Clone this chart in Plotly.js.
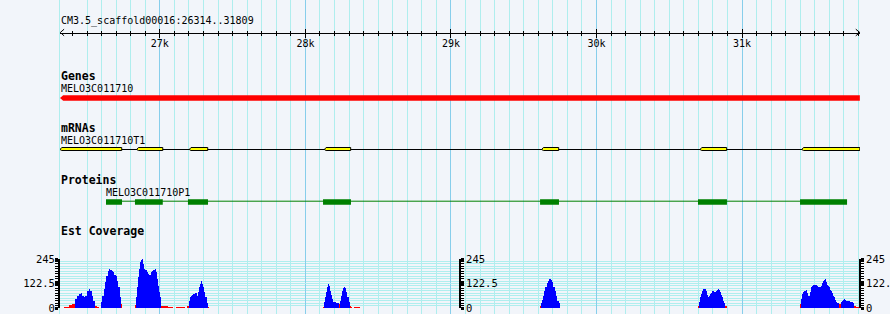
<!DOCTYPE html>
<html><head><meta charset="utf-8">
<script src="https://cdn.plot.ly/plotly-3.0.1.min.js"></script>
<style>html,body{margin:0;padding:0;background:#f2f5fa;} #chart{width:890px;height:314px;}</style>
</head><body><div id="chart"></div>
<script>
// ---------------- data ----------------
const regionStart = 26314, regionEnd = 31809;
const scaffoldLabel = 'CM3.5_scaffold00016:26314..31809';
const rulerTicks = [27000, 28000, 29000, 30000, 31000];
const rulerLabels = ['27k', '28k', '29k', '30k', '31k'];

const geneName = 'MELO3C011710';
const geneStart = 26314, geneEnd = 31809;

const mrnaName = 'MELO3C011710T1';
const exonStart = [26314, 26841, 27202, 28130, 29623, 30711, 31410];
const exonEnd   = [26738, 27020, 27329, 28311, 29740, 30894, 31809];

const proteinName = 'MELO3C011710P1';
const cdsStart = [26630, 26829, 27193, 28121, 29612, 30697, 31398];
const cdsEnd   = [26740, 27020, 27331, 28313, 29742, 30896, 31721];

const covTicks = [0, 122.5, 245];
const covTickLabels = ['0', '122.5', '245'];
// coverage step function: value covVal[i] holds from covPos[i] to covPos[i+1]
const covPos = [
  26341,26376,26396,26419,26431,26445,26456,26465,26477,26486,26499,26511,26520,26532,26541,26556,26570,26582,
  26594,26596,26605,26614,26623,26632,26642,26651,26660,26669,26678,26687,26697,26706,26715,26724,26731,26733,26742,
  26829,26834,26841,26848,26855,26864,26873,26879,26886,26893,26900,26910,26919,26928,26937,26946,26955,26965,26972,26980,26987,26996,27003,27010,27056,27090,
  27113,27171,27189,27198,27205,27212,27221,27230,27239,27257,27264,27271,27278,27285,27292,27299,27305,27312,27322,27331,27338,
  28119,28128,28135,28141,28148,28157,28164,28171,28178,28185,28192,28201,28210,28219,28233,28238,28244,28251,28258,28267,28274,28281,28288,28297,28306,28315,28320,28336,28375,
  29612,29618,29627,29634,29641,29648,29658,29667,29675,29685,29694,29703,29713,29721,29730,29740,29747,
  30699,30706,30713,30720,30727,30733,30750,30757,30764,30771,30777,30784,30791,30805,30821,30828,30834,30841,30848,30855,30862,30869,30876,30883,30894,
  31398,31407,31414,31420,31427,31434,31441,31448,31455,31469,31475,31482,31489,31503,31517,31524,31537,31544,31551,31558,31565,31572,31579,31585,31592,31599,31606,31613,31620,31627,31634,31640,31647,31654,31666,31680,31687,31693,31700,31707,31714,31728,31742,31748,31762,31771,31783,31809
];
const covVal = [
  5,14,20,45,62,70,73,62,53,62,83,93,87,62,37,12,3,0,
  5,28,62,95,128,162,187,195,190,183,178,167,162,137,103,53,24,20,0,
  17,53,103,153,195,228,240,245,220,195,192,178,170,167,178,187,192,195,178,145,112,78,53,10,7,0,
  5,0,12,37,53,58,65,70,75,62,78,103,120,133,120,103,78,53,24,7,0,
  7,28,53,78,103,120,110,87,67,45,32,28,24,23,20,37,62,83,98,103,98,78,53,28,12,3,0,7,0,
  8,24,40,62,83,103,123,137,145,140,128,107,87,62,37,24,0,
  12,28,53,70,87,95,83,67,53,62,70,75,83,78,83,90,95,90,78,67,53,37,24,12,0,
  20,45,70,78,83,87,90,73,62,78,103,112,117,115,112,103,107,112,123,137,142,145,128,117,112,103,90,83,73,62,53,40,28,24,20,28,37,40,45,42,37,33,32,28,25,12,3,0
];
const covMax = 245;
const covPivot = 21;

// ---------------- styles / layout constants ----------------
const mono = '"DejaVu Sans Mono", "Liberation Mono", monospace';
const bg = '#f2f5fa';
const minorGridColor = '#afeeee';
const majorGridColor = '#87ceeb';
const H = 314;               // main y axis works in pixel rows (top = 0)
const rulerY = 32.5;
const geneY = 98, geneHalf = 2.7, geneArrow = 22;
const mrnaBoxY = 149, mrnaLineY = 149.5, exonHalf = 1.5, exonNotch = 12;
const protLineY = 201.2, cdsY = 202, cdsHalf = 2.7;
const covTopPx = 259, covBottomPx = 308;

// ---------------- traces ----------------
const traces = [];

// gene (minus strand arrow)
traces.push({
  x: [geneStart + geneArrow, geneStart, geneStart + geneArrow, geneEnd, geneEnd, geneStart + geneArrow],
  y: [geneY - geneHalf, geneY, geneY + geneHalf, geneY + geneHalf, geneY - geneHalf, geneY - geneHalf],
  xaxis: 'x', yaxis: 'y', mode: 'lines', fill: 'toself', fillcolor: '#ff0000',
  line: {width: 0, color: '#ff0000'}, hoverinfo: 'skip'
});

// mRNA intron line
traces.push({
  x: [exonStart[0], exonEnd[exonEnd.length - 1]], y: [mrnaLineY, mrnaLineY],
  xaxis: 'x', yaxis: 'y', mode: 'lines', line: {width: 1, color: '#000'}, hoverinfo: 'skip'
});
// exons
const ex = [], ey = [];
for (let i = 0; i < exonStart.length; i++) {
  const s = exonStart[i], e = exonEnd[i];
  ex.push(s + exonNotch, s, s + exonNotch, e, e, s + exonNotch, null);
  ey.push(mrnaBoxY - exonHalf, mrnaBoxY + 0.5, mrnaBoxY + exonHalf, mrnaBoxY + exonHalf, mrnaBoxY - exonHalf, mrnaBoxY - exonHalf, null);
}
traces.push({
  x: ex, y: ey, xaxis: 'x', yaxis: 'y', mode: 'lines', fill: 'toself', fillcolor: '#ffff00',
  line: {width: 1, color: '#000'}, hoverinfo: 'skip'
});

// protein line
traces.push({
  x: [cdsStart[0], cdsEnd[cdsEnd.length - 1]], y: [protLineY, protLineY],
  xaxis: 'x', yaxis: 'y', mode: 'lines', line: {width: 1, color: '#008000'}, hoverinfo: 'skip'
});
const cx = [], cy = [];
for (let i = 0; i < cdsStart.length; i++) {
  const s = cdsStart[i], e = cdsEnd[i];
  cx.push(s, e, e, s, s, null);
  cy.push(cdsY - cdsHalf, cdsY - cdsHalf, cdsY + cdsHalf, cdsY + cdsHalf, cdsY - cdsHalf, null);
}
traces.push({
  x: cx, y: cy, xaxis: 'x', yaxis: 'y', mode: 'lines', fill: 'toself', fillcolor: '#008000',
  line: {width: 0, color: '#008000'}, hoverinfo: 'skip'
});

// ruler arrowheads
const arrowLen = 28, arrowHalf = 3.3;
traces.push({
  x: [regionStart + arrowLen, regionStart + 2, regionStart + arrowLen, null, regionEnd - arrowLen, regionEnd, regionEnd - arrowLen],
  y: [rulerY - arrowHalf, rulerY, rulerY + arrowHalf, null, rulerY - arrowHalf, rulerY, rulerY + arrowHalf],
  xaxis: 'x', yaxis: 'y', mode: 'lines', line: {width: 1, color: '#000'}, hoverinfo: 'skip'
});

// coverage bars
const bx = [], bw = [], by = [], bc = [];
for (let i = 0; i < covVal.length - 1; i++) {
  if (covVal[i] > 0) {
    bx.push(covPos[i]); bw.push(covPos[i + 1] - covPos[i]); by.push(covVal[i]);
    bc.push(covVal[i] < covPivot ? '#ff0000' : '#0000ff');
  }
}
traces.push({
  type: 'bar', x: bx, y: by, width: bw, offset: 0, xaxis: 'x', yaxis: 'y2',
  marker: {color: bc, line: {width: 0}}, hoverinfo: 'skip'
});

// helper empty traces so the overlay axes get drawn
traces.push({x: [], y: [], xaxis: 'x2', yaxis: 'y', mode: 'lines', hoverinfo: 'skip'});
traces.push({x: [], y: [], xaxis: 'x3', yaxis: 'y', mode: 'lines', hoverinfo: 'skip'});
traces.push({x: [], y: [], xaxis: 'x', yaxis: 'y3', mode: 'lines', hoverinfo: 'skip'});
traces.push({x: [], y: [], xaxis: 'x', yaxis: 'y4', mode: 'lines', hoverinfo: 'skip'});

// ---------------- axes ----------------
const xRange = [regionStart, regionEnd + 1];
const minorGrid = [];
for (let v = 26500; v <= 31800; v += 100) if (v % 1000 !== 0) minorGrid.push(v);
const rulerPos = (H - rulerY) / H;

const covAxisBase = {
  range: [0, covMax], tickmode: 'array', tickvals: covTicks, ticktext: covTickLabels,
  ticks: 'outside', ticklen: 3, tickwidth: 3, tickcolor: '#000',
  showline: true, linecolor: '#000', linewidth: 2, zeroline: false,
  tickfont: {family: mono, size: 10.5, color: '#000'}, fixedrange: true,
  minor: {tickmode: 'linear', tick0: 0, dtick: 12.25, ticks: 'outside', ticklen: 3, tickwidth: 1, tickcolor: '#000', showgrid: false}
};

function label(text, x, xref, y, size, xshift) {
  return {text: text, x: x, xref: xref, y: y, yref: 'y', xanchor: 'left', yanchor: 'middle',
          xshift: xshift, showarrow: false, font: {family: mono, size: size, color: '#000'}};
}

const layout = {
  width: 890, height: 314,
  margin: {l: 60, r: 30, t: 0, b: 0, pad: 0},
  paper_bgcolor: bg, plot_bgcolor: 'rgba(0,0,0,0)',
  showlegend: false, bargap: 0, hovermode: false,
  xaxis: {
    range: xRange, domain: [0, 1], anchor: 'y', showticklabels: false, ticks: '',
    tickmode: 'array', tickvals: rulerTicks, showgrid: true, gridcolor: majorGridColor, gridwidth: 1,
    minor: {tickmode: 'array', tickvals: minorGrid, showgrid: true, gridcolor: minorGridColor, gridwidth: 1, ticks: ''},
    zeroline: false, showline: false, fixedrange: true
  },
  xaxis2: {
    overlaying: 'x', anchor: 'free', position: rulerPos, side: 'bottom', range: xRange,
    tickmode: 'array', tickvals: rulerTicks, ticktext: rulerLabels,
    ticks: 'outside', ticklen: 4, tickwidth: 1, tickcolor: '#000',
    showline: true, linecolor: '#000', linewidth: 1, showgrid: false, zeroline: false,
    minor: {tickmode: 'linear', tick0: 0, dtick: 100, ticks: 'outside', ticklen: 2, tickwidth: 1, tickcolor: '#000', showgrid: false},
    tickfont: {family: mono, size: 10, color: '#000'}, ticklabelstandoff: -3, fixedrange: true
  },
  xaxis3: {
    overlaying: 'x', anchor: 'free', position: rulerPos, side: 'top', range: xRange,
    tickmode: 'array', tickvals: rulerTicks, showticklabels: false,
    ticks: 'outside', ticklen: 4, tickwidth: 1, tickcolor: '#000',
    showline: false, showgrid: false, zeroline: false,
    minor: {tickmode: 'linear', tick0: 0, dtick: 100, ticks: 'outside', ticklen: 2, tickwidth: 1, tickcolor: '#000', showgrid: false},
    fixedrange: true
  },
  yaxis: {
    range: [H, 0], domain: [0, 1], anchor: 'x', showticklabels: false, ticks: '',
    showgrid: false, zeroline: false, showline: true, linecolor: minorGridColor, linewidth: 1, fixedrange: true
  },
  yaxis2: Object.assign({}, covAxisBase, {
    domain: [(H - covBottomPx) / H, (H - covTopPx) / H], anchor: 'x', side: 'left',
    showgrid: true, gridcolor: minorGridColor, gridwidth: 1, ticklabelstandoff: -2,
    minor: Object.assign({}, covAxisBase.minor, {showgrid: true, gridcolor: minorGridColor, gridwidth: 1})
  }),
  yaxis3: Object.assign({}, covAxisBase, {overlaying: 'y2', anchor: 'free', position: 0.5, side: 'right', showgrid: false}),
  yaxis4: Object.assign({}, covAxisBase, {overlaying: 'y2', anchor: 'free', position: 1, side: 'right', showgrid: false}),
  annotations: [
    label(scaffoldLabel, 0, 'paper', 20.7, 10, -1),
    label('<b>Genes</b>', 0, 'paper', 76, 11.5, -1),
    label(geneName, 0, 'paper', 88, 10, -1),
    label('<b>mRNAs</b>', 0, 'paper', 128, 11.5, -1),
    label(mrnaName, 0, 'paper', 140.3, 10, -1),
    label('<b>Proteins</b>', 0, 'paper', 180, 11.5, -1),
    label(proteinName, cdsStart[0], 'x', 192.2, 10, -2),
    label('<b>Est Coverage</b>', 0, 'paper', 231, 11.5, -1)
  ]
};

Plotly.newPlot('chart', traces, layout, {staticPlot: true, displayModeBar: false});
</script>
</body></html>
